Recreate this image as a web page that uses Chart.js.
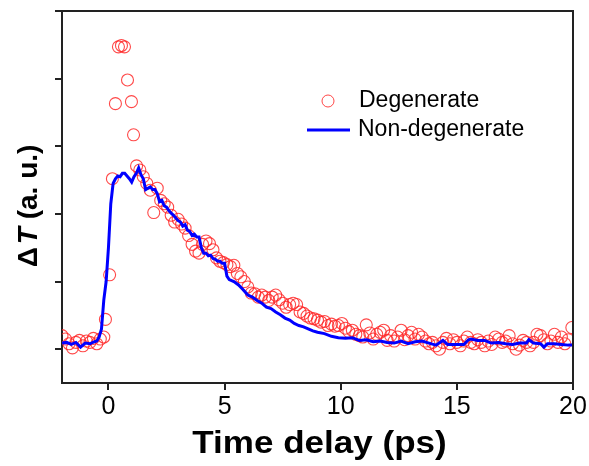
<!DOCTYPE html>
<html>
<head>
<meta charset="utf-8">
<script src="https://cdn.jsdelivr.net/npm/chart.js@4.4.1/dist/chart.umd.min.js"></script>
<style>
html,body{margin:0;padding:0;background:#fff;}
#c{display:block;}
</style>
</head>
<body>
<canvas id="c" width="589" height="466"></canvas>
<script>
// ---------- DATA ----------
const xTickValues = [0, 5, 10, 15, 20];
const yTickValues = [0, 1, 2, 3, 4, 5];

const degTime = [-2.0,-1.85,-1.7,-1.55,-1.4,-1.25,-1.1,-0.95,-0.8,-0.65,-0.5,-0.35,-0.2,-0.13,0.05,0.17,0.30,0.43,0.56,0.69,0.82,0.99,1.08,1.21,
1.35,1.5,1.65,1.8,1.95,2.1,2.25,2.4,2.55,2.7,2.85,3.0,3.15,3.3,3.45,3.6,3.75,3.9,4.05,4.2,4.35,4.5,4.65,4.8,4.95,
5.1,5.25,5.4,5.55,5.7,5.85,6.0,6.15,6.3,6.45,6.6,6.75,6.9,7.05,7.2,7.35,7.5,7.65,7.8,7.95,8.1,8.25,8.4,8.55,8.7,8.85,
9.0,9.15,9.3,9.45,9.6,9.75,9.9,10.05,10.2,10.35,10.5,10.65,10.8,10.95,11.1,11.25,11.4,11.55,11.7,11.85,
12.0,12.15,12.3,12.45,12.6,12.75,12.9,13.05,13.2,13.35,13.5,13.65,13.8,13.95,14.1,14.25,14.4,14.55,14.7,14.85,
15.0,15.15,15.3,15.45,15.6,15.75,15.9,16.05,16.2,16.35,16.5,16.65,16.8,16.95,17.1,17.25,17.4,17.55,17.7,17.85,
18.0,18.15,18.3,18.45,18.6,18.75,18.9,19.05,19.2,19.35,19.5,19.65,19.8,19.95];
const degSignal = [0.20,0.15,0.08,0.02,0.10,0.13,0.05,0.12,0.10,0.16,0.08,0.15,0.18,0.44,1.10,2.52,3.63,4.47,4.49,4.47,3.98,3.66,3.17,2.71,
2.65,2.55,2.45,2.35,2.02,2.38,2.20,2.15,2.10,1.98,1.88,1.92,1.85,1.79,1.68,1.55,1.45,1.42,1.55,1.60,1.56,1.47,1.35,1.30,1.28,
1.25,1.22,1.24,1.12,1.07,1.00,0.92,0.83,0.82,0.77,0.80,0.77,0.72,0.77,0.80,0.73,0.68,0.62,0.66,0.68,0.66,0.55,0.53,0.49,0.46,0.45,
0.43,0.40,0.41,0.35,0.37,0.34,0.35,0.38,0.31,0.26,0.28,0.22,0.20,0.18,0.36,0.24,0.15,0.22,0.25,0.28,
0.13,0.20,0.12,0.18,0.28,0.14,0.20,0.25,0.15,0.22,0.18,0.12,0.08,0.10,0.05,0.00,0.10,0.16,0.08,0.14,
0.10,0.05,0.12,0.18,0.10,0.08,0.14,0.10,0.05,0.12,0.07,0.18,0.15,0.10,0.12,0.20,0.08,0.00,0.06,0.13,
0.10,0.05,0.10,0.22,0.20,0.14,0.08,0.12,0.22,0.10,0.18,0.08,0.14,0.32];

const ndTime = [-2.0,-1.8,-1.6,-1.4,-1.2,-1.0,-0.8,-0.6,-0.5,-0.4,-0.3,-0.2,-0.1,0.0,0.1,0.2,0.3,0.4,0.5,0.6,0.7,0.8,0.9,1.0,
1.1,1.2,1.3,1.4,1.5,1.6,1.7,1.8,1.9,2.0,2.1,2.2,2.3,2.4,2.5,2.6,2.7,2.8,2.9,3.0,3.1,3.2,3.3,3.4,3.5,3.6,3.7,3.8,3.9,
4.0,4.1,4.2,4.3,4.4,4.5,4.6,4.7,4.8,4.9,5.0,5.1,5.2,5.4,5.6,5.8,6.0,6.2,6.4,6.6,6.8,7.0,7.2,7.4,7.6,7.8,8.0,8.2,8.4,
8.6,8.8,9.0,9.3,9.6,9.9,10.2,10.5,10.8,11.1,11.4,11.7,12.0,12.3,12.6,12.9,13.2,13.5,13.8,14.1,14.4,14.6,14.8,15.0,
15.3,15.5,15.6,15.9,16.2,16.4,16.5,16.8,17.1,17.4,17.7,18.0,18.1,18.3,18.6,18.75,18.9,19.2,19.5,19.8,20.0];
const ndSignal = [0.09,0.10,0.07,0.10,0.03,0.09,0.08,0.11,0.12,0.18,0.30,0.73,1.00,1.50,2.15,2.45,2.52,2.56,2.55,2.60,2.60,2.56,2.52,2.47,
2.55,2.60,2.68,2.58,2.52,2.36,2.38,2.40,2.36,2.36,2.30,2.18,2.20,2.12,2.10,2.05,2.01,1.98,1.94,1.90,1.88,1.82,1.84,1.76,1.74,1.68,1.70,1.66,1.66,
1.50,1.42,1.42,1.38,1.39,1.34,1.33,1.30,1.30,1.27,1.27,1.08,1.03,1.00,0.95,0.88,0.80,0.77,0.72,0.68,0.62,0.60,0.55,0.51,0.46,0.43,0.38,0.35,0.33,
0.30,0.27,0.25,0.23,0.19,0.17,0.16,0.17,0.13,0.14,0.11,0.12,0.10,0.09,0.12,0.08,0.11,0.12,0.09,0.06,0.13,0.07,0.07,0.07,
0.07,0.14,0.15,0.13,0.13,0.10,0.09,0.10,0.08,0.07,0.09,0.09,0.14,0.09,0.08,0.03,0.08,0.08,0.07,0.06,0.06];

const seriesNames = ['Degenerate', 'Non-degenerate'];
const yTitleParts = ['\u0394', 'T', ' (a. u.)'];
const xTitle = 'Time delay (ps)';

// ---------- STYLE ----------
const FONT = '"Liberation Sans", Arial, Helvetica, sans-serif';
const circleColor = 'rgba(255,40,40,0.85)';
const lineColor = '#0000ff';
const axisColor = '#222';

const degPoints = degTime.map((t, i) => ({x: t, y: degSignal[i]}));
const ndPoints = ndTime.map((t, i) => ({x: t, y: ndSignal[i]}));

const framePlugin = {
  id: 'frame',
  afterDraw(chart) {
    const {ctx, chartArea: a} = chart;
    ctx.save();
    // top and right frame
    ctx.strokeStyle = axisColor;
    ctx.lineWidth = 2;
    ctx.beginPath();
    ctx.moveTo(a.left, a.top);
    ctx.lineTo(a.right, a.top);
    ctx.lineTo(a.right, a.bottom);
    ctx.stroke();
    ctx.restore();

    // x title (slightly wide glyphs like the reference)
    ctx.save();
    ctx.fillStyle = '#000';
    ctx.font = 'bold 31px ' + FONT;
    ctx.textBaseline = 'alphabetic';
    ctx.textAlign = 'center';
    ctx.translate((a.left + a.right) / 2 + 2, 453);
    ctx.scale(1.13, 1);
    ctx.fillText(xTitle, 0, 0);
    ctx.restore();

    // y title with italic T
    ctx.save();
    ctx.translate(37, (a.top + a.bottom) / 2 + 9);
    ctx.rotate(-Math.PI / 2);
    ctx.fillStyle = '#000';
    ctx.textBaseline = 'alphabetic';
    const fonts = ['bold 28px ' + FONT, 'italic bold 28px ' + FONT, 'bold 28px ' + FONT];
    const gaps = [3, 0, 0];
    let total = 0;
    yTitleParts.forEach((p, i) => { ctx.font = fonts[i]; total += ctx.measureText(p).width + gaps[i]; });
    let x = -total / 2;
    yTitleParts.forEach((p, i) => {
      ctx.font = fonts[i];
      ctx.fillText(p, x, 0);
      x += ctx.measureText(p).width + gaps[i];
    });
    ctx.restore();

    // legend
    ctx.save();
    ctx.font = '23px ' + FONT;
    ctx.fillStyle = '#000';
    ctx.textBaseline = 'middle';
    ctx.strokeStyle = circleColor;
    ctx.lineWidth = 1;
    ctx.beginPath();
    ctx.arc(328, 101, 6, 0, Math.PI * 2);
    ctx.stroke();
    ctx.fillText(seriesNames[0], 359, 101);
    ctx.strokeStyle = lineColor;
    ctx.lineWidth = 3;
    ctx.beginPath();
    ctx.moveTo(307, 130);
    ctx.lineTo(350, 130);
    ctx.stroke();
    ctx.fillText(seriesNames[1], 358, 130);
    ctx.restore();
  }
};

new Chart(document.getElementById('c'), {
  type: 'scatter',
  data: {
    datasets: [
      {
        label: seriesNames[1],
        type: 'line',
        data: ndPoints,
        borderColor: lineColor,
        borderWidth: 3,
        pointRadius: 0,
        tension: 0,
        fill: false,
        order: 0
      },
      {
        label: seriesNames[0],
        data: degPoints,
        pointStyle: 'circle',
        pointRadius: 6,
        pointBorderWidth: 1.1,
        borderColor: circleColor,
        backgroundColor: 'rgba(0,0,0,0)',
        order: 1
      }
    ]
  },
  options: {
    responsive: false,
    animation: false,
    devicePixelRatio: 1,
    events: [],
    layout: {padding: {top: 11, right: 16, left: 0, bottom: 0}},
    plugins: {legend: {display: false}, tooltip: {enabled: false}},
    scales: {
      x: {
        type: 'linear',
        min: -2, max: 20,
        afterFit(s) { s.height = 83; },
        afterBuildTicks(s) { s.ticks = xTickValues.map(v => ({value: v})); },
        ticks: {color: '#000', font: {family: FONT, size: 25}, padding: 2, maxRotation: 0},
        grid: {display: true, drawOnChartArea: false, drawTicks: true, tickLength: 7, color: axisColor, lineWidth: 2},
        border: {display: true, color: axisColor, width: 2},
        title: {display: false}
      },
      y: {
        type: 'linear',
        min: -0.5, max: 5,
        afterFit(s) { s.width = 62; },
        afterBuildTicks(s) { s.ticks = yTickValues.map(v => ({value: v})); },
        ticks: {display: false},
        grid: {display: true, drawOnChartArea: false, drawTicks: true, tickLength: 7, color: axisColor, lineWidth: 2},
        border: {display: true, color: axisColor, width: 2}
      }
    }
  },
  plugins: [framePlugin]
});
</script>
</body>
</html>
